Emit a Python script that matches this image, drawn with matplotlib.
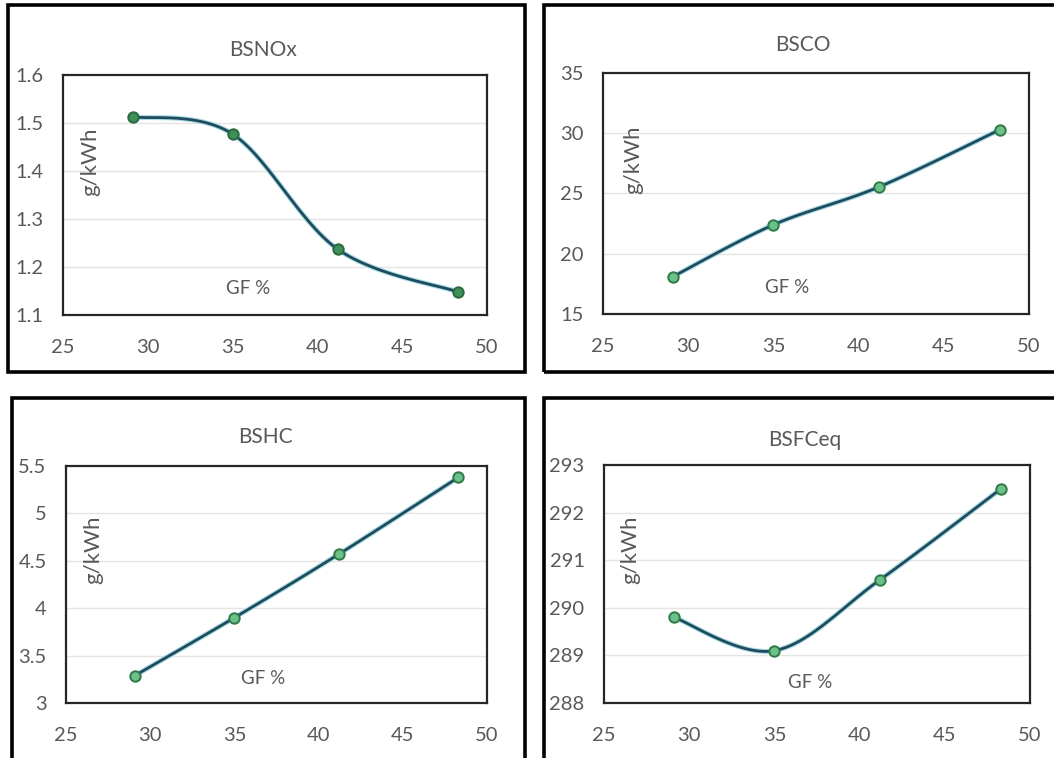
import numpy as np
import matplotlib
matplotlib.use("Agg")
import matplotlib.pyplot as plt
from matplotlib.patches import Rectangle

plt.rcParams['font.family'] = ['Lato', 'DejaVu Sans']

# Gas fraction (%) at each operating point
gf = [29.1, 35.0, 41.2, 48.3]

# Brake-specific quantities, g/kWh
bsnox = [1.513, 1.477, 1.237, 1.148]
bsco = [18.1, 22.4, 25.55, 30.3]
bshc = [3.29, 3.90, 4.57, 5.38]
bsfceq = [289.8, 289.1, 290.59, 292.5]

titles = ["BSNOx", "BSCO", "BSHC", "BSFCeq"]
y_ticks = [
    [1.1, 1.2, 1.3, 1.4, 1.5, 1.6],
    [15, 20, 25, 30, 35],
    [3, 3.5, 4, 4.5, 5, 5.5],
    [288, 289, 290, 291, 292, 293],
]
y_ticklabels = [
    ["1.1", "1.2", "1.3", "1.4", "1.5", "1.6"],
    ["15", "20", "25", "30", "35"],
    ["3", "3.5", "4", "4.5", "5", "5.5"],
    ["288", "289", "290", "291", "292", "293"],
]
x_ticks = [25, 30, 35, 40, 45, 50]
series = [bsnox, bsco, bshc, bsfceq]

W, H = 1054, 758
fig = plt.figure(figsize=(W / 100, H / 100), dpi=100)
fig.patch.set_facecolor("white")


def fx(px):
    return px / W


def fy(py):
    return 1 - py / H


# plot-area boxes in pixels: (left, top, right, bottom)
boxes = [(63, 75, 487, 315), (603, 73, 1029, 314),
         (66, 466, 487, 703), (604, 465, 1030, 703)]
# outer chart frames in pixels
frames = [(8, 5, 525, 372), (544, 5, 1064, 372),
          (12, 398, 525, 768), (544, 398, 1064, 768)]
title_pos = [(263, 50), (803, 45), (265, 437), (805, 440)]
ylab_pos = [(90, 162), (633, 160), (93, 550), (630, 550)]
xlab_pos = [(248, 288), (787, 287), (263, 678), (810, 682)]

marker_fill = ["#3f8f58", "#6cc08a", "#6cc08a", "#6cc08a"]
marker_edge = ["#2b6a3f", "#2f7a48", "#2f7a48", "#2f7a48"]
grey = "#595959"


def smooth(xs, ys, sx, sy, n=40):
    """Excel-style smoothed line: Catmull-Rom Bezier segments in screen scale."""
    P = np.column_stack([np.asarray(xs) * sx, np.asarray(ys) * sy])
    pts = []
    m = len(P)
    for i in range(m - 1):
        p0 = P[i - 1] if i > 0 else P[i]
        p1, p2 = P[i], P[i + 1]
        p3 = P[i + 2] if i + 2 < m else P[i + 1]
        c1 = p1 + (p2 - p0) / 6
        c2 = p2 - (p3 - p1) / 6
        t = np.linspace(0, 1, n)[:, None]
        seg = ((1 - t) ** 3) * p1 + 3 * ((1 - t) ** 2) * t * c1 \
            + 3 * (1 - t) * t ** 2 * c2 + t ** 3 * p2
        pts.append(seg if i == 0 else seg[1:])
    pts = np.vstack(pts)
    return pts[:, 0] / sx, pts[:, 1] / sy


for k in range(4):
    l, t, r, b = boxes[k]
    ax = fig.add_axes([fx(l), fy(b), fx(r - l), (b - t) / H])
    ax.set_xlim(25, 50)
    ax.set_ylim(y_ticks[k][0], y_ticks[k][-1])
    ax.set_xticks(x_ticks)
    ax.set_xticklabels([str(v) for v in x_ticks])
    ax.set_yticks(y_ticks[k])
    ax.set_yticklabels(y_ticklabels[k])
    ax.tick_params(axis="both", length=0, labelsize=14.5, labelcolor=grey)
    ax.tick_params(axis="y", pad=14)
    ax.tick_params(axis="x", pad=17)
    for s in ax.spines.values():
        s.set_linewidth(1.6)
        s.set_color("#262626")
    for v in y_ticks[k][1:-1]:
        ax.axhline(v, color="#e4e4e4", lw=1.0, zorder=0)

    ys = series[k]
    yr = y_ticks[k][-1] - y_ticks[k][0]
    sx = (r - l) / 25.0
    sy = (b - t) / yr
    cx, cy = smooth(gf, ys, sx, sy)
    ax.plot(cx, cy, color="#a8dbe3", lw=3.6, solid_capstyle="round", zorder=2)
    ax.plot(cx, cy, color="#1f4b5e", lw=2.0, solid_capstyle="round", zorder=3)
    ax.plot(gf, ys, ls="none", marker="o", ms=7.5, mfc=marker_fill[k],
            mec=marker_edge[k], mew=1.4, zorder=4)

    fig.text(fx(title_pos[k][0]), fy(title_pos[k][1]), titles[k],
             ha="center", va="center", fontsize=15, color=grey)
    fig.text(fx(ylab_pos[k][0]), fy(ylab_pos[k][1]), "g/kWh",
             ha="center", va="center", rotation=90, fontsize=16, color=grey)
    fig.text(fx(xlab_pos[k][0]), fy(xlab_pos[k][1]), "GF %",
             ha="center", va="center", fontsize=13.5, color=grey)

    fl, ft, fr, fb = frames[k]
    fig.add_artist(Rectangle((fx(fl), fy(fb)), fx(fr - fl), (fb - ft) / H,
                             transform=fig.transFigure, fill=False,
                             edgecolor="black", lw=2.6, zorder=10))

fig.savefig("out.png", dpi=100, facecolor="white")
